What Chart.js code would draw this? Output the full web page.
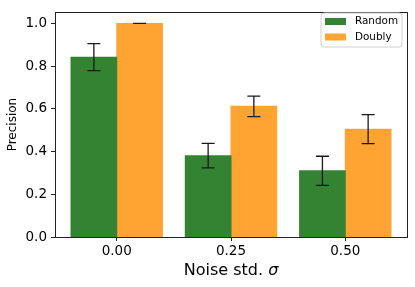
<!DOCTYPE html>
<html><head><meta charset="utf-8">
<script src="https://cdn.jsdelivr.net/npm/chart.js@4/dist/chart.umd.min.js"></script>
<style>html,body{margin:0;padding:0;background:#fff}</style>
</head><body>
<canvas id="c" width="415" height="287"></canvas>
<script>
const categories = ["0.00", "0.25", "0.50"];
const seriesNames = ["Random", "Doubly"];
const randomValues = [0.842, 0.381, 0.310];
const randomErrors = [0.063, 0.057, 0.068];
const doublyValues = [1.0, 0.612, 0.505];
const doublyErrors = [0.0, 0.048, 0.068];
const yTicks = [0.0, 0.2, 0.4, 0.6, 0.8, 1.0];
const xTitle = "Noise std. ";
const xTitleSymbol = "σ";
const yTitle = "Precision";
const colors = ["#338333", "#ffa333"];

const FONT = "'DejaVu Sans', sans-serif";

const overlay = {
  id: 'overlay',
  afterDatasetsDraw(chart) {
    const ctx = chart.ctx, ys = chart.scales.y;
    ctx.save();
    ctx.strokeStyle = '#1a1a1a';
    ctx.lineWidth = 1.3;
    chart.data.datasets.forEach((ds, di) => {
      const meta = chart.getDatasetMeta(di);
      meta.data.forEach((bar, i) => {
        const v = ds.data[i].y, e = ds.errors[i];
        const x = bar.x;
        const yt = ys.getPixelForValue(v + e), yb = ys.getPixelForValue(v - e);
        ctx.beginPath();
        ctx.moveTo(x, yt); ctx.lineTo(x, yb);
        ctx.moveTo(x - 6.5, yt); ctx.lineTo(x + 6.5, yt);
        ctx.moveTo(x - 6.5, yb); ctx.lineTo(x + 6.5, yb);
        ctx.stroke();
      });
    });
    ctx.restore();
  },
  afterDraw(chart) {
    const ctx = chart.ctx, a = chart.chartArea;
    ctx.save();
    ctx.strokeStyle = '#222';
    ctx.lineWidth = 1;
    ctx.strokeRect(Math.round(a.left) + 0.5, Math.round(a.top) + 0.5, Math.round(a.right - a.left), Math.round(a.bottom - a.top));
    const lx = 321, ly = 13, lw = 81, lh = 34, r = 3;
    ctx.beginPath();
    ctx.moveTo(lx + r, ly); ctx.lineTo(lx + lw - r, ly); ctx.arcTo(lx + lw, ly, lx + lw, ly + r, r);
    ctx.lineTo(lx + lw, ly + lh - r); ctx.arcTo(lx + lw, ly + lh, lx + lw - r, ly + lh, r);
    ctx.lineTo(lx + r, ly + lh); ctx.arcTo(lx, ly + lh, lx, ly + lh - r, r);
    ctx.lineTo(lx, ly + r); ctx.arcTo(lx, ly, lx + r, ly, r);
    ctx.closePath();
    ctx.fillStyle = 'rgba(255,255,255,0.8)';
    ctx.fill();
    ctx.strokeStyle = '#d0d0d0';
    ctx.stroke();
    ctx.font = '10.4px ' + FONT;
    ctx.textBaseline = 'middle';
    ctx.textAlign = 'left';
    chart.data.datasets.forEach((ds, i) => {
      const cy = 21.5 + i * 15.5;
      ctx.fillStyle = ds.backgroundColor;
      ctx.fillRect(325, cy - 3.5, 21, 7);
      ctx.fillStyle = '#000';
      ctx.fillText(ds.label, 355, cy);
    });
    ctx.font = '16px ' + FONT;
    const w1 = ctx.measureText(xTitle).width;
    ctx.font = 'italic 16px ' + FONT;
    const w2 = ctx.measureText(xTitleSymbol).width;
    const cx = (a.left + a.right) / 2;
    let sx = cx - (w1 + w2) / 2;
    ctx.textBaseline = 'alphabetic';
    ctx.fillStyle = '#000';
    ctx.font = '16px ' + FONT;
    ctx.fillText(xTitle, sx, 275);
    ctx.font = 'italic 16px ' + FONT;
    ctx.fillText(xTitleSymbol, sx + w1, 275);
    ctx.font = '12px ' + FONT;
    ctx.translate(13, (a.top + a.bottom) / 2);
    ctx.rotate(-Math.PI / 2);
    ctx.textAlign = 'center';
    ctx.textBaseline = 'middle';
    ctx.fillText(yTitle, 0, 0);
    ctx.restore();
  }
};

new Chart(document.getElementById('c'), {
  type: 'bar',
  data: {
    datasets: [
      { label: seriesNames[0], data: categories.map((c, i) => ({x: i, y: randomValues[i]})), errors: randomErrors,
        backgroundColor: colors[0], borderWidth: 0, inflateAmount: 0.5, categoryPercentage: 0.8, barPercentage: 1.0 },
      { label: seriesNames[1], data: categories.map((c, i) => ({x: i, y: doublyValues[i]})), errors: doublyErrors,
        backgroundColor: colors[1], borderWidth: 0, inflateAmount: 0.5, categoryPercentage: 0.8, barPercentage: 1.0 }
    ]
  },
  options: {
    responsive: false,
    animation: false,
    devicePixelRatio: 1,
    layout: { padding: { top: 7, right: 8, left: 0, bottom: 0 } },
    plugins: { legend: { display: false }, tooltip: { enabled: false } },
    scales: {
      x: {
        type: 'linear', min: -0.54, max: 2.54, offset: false,
        afterBuildTicks: s => { s.ticks = categories.map((c, i) => ({value: i})); },
        afterFit: s => { s.height = 50; },
        ticks: { callback: v => categories[v], color: '#000', font: { family: FONT, size: 13.5 }, padding: 2, maxRotation: 0 },
        grid: { offset: false, drawOnChartArea: false, drawTicks: true, tickLength: 4, color: '#222' },
        border: { display: false }
      },
      y: {
        min: 0, max: 1.053,
        afterBuildTicks: s => { s.ticks = yTicks.map(v => ({value: v})); },
        afterFit: s => { s.width = 55; },
        ticks: { callback: v => v.toFixed(1), color: '#000', font: { family: FONT, size: 13.5 }, padding: 4 },
        grid: { drawOnChartArea: false, drawTicks: true, tickLength: 4, color: '#222' },
        border: { display: false }
      }
    }
  },
  plugins: [overlay]
});
</script>
</body></html>
